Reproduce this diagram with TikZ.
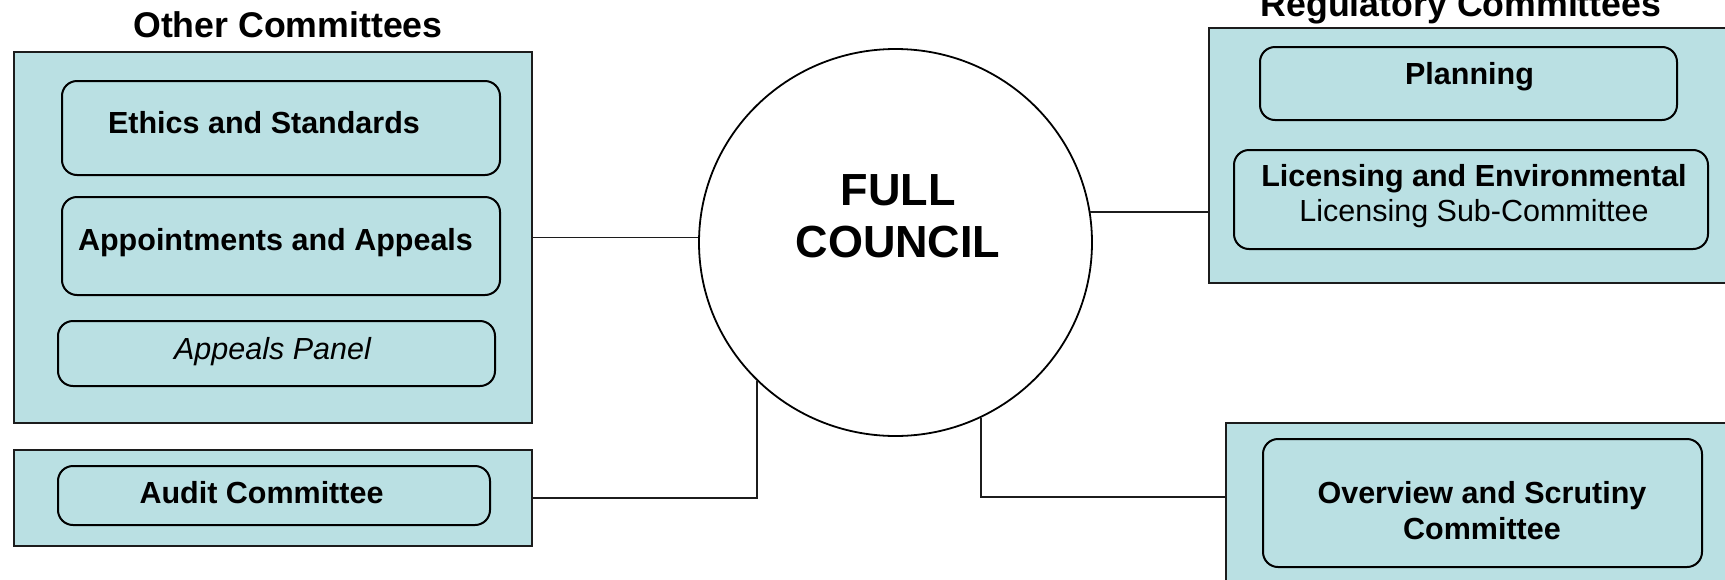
\documentclass[tikz,border=0pt]{standalone}
\usepackage{fontspec}
\setmainfont{Liberation Sans}
\usetikzlibrary{shapes.geometric}
\definecolor{boxfill}{RGB}{186,224,227}
\definecolor{edgegray}{RGB}{28,28,28}
\begin{document}
\begin{tikzpicture}[x=1pt,y=-1pt,
  outerbox/.style={rectangle, draw=edgegray, line width=2pt, fill=boxfill, inner sep=0pt},
  innerbox/.style={rectangle, draw=black, line width=2pt, fill=boxfill, rounded corners=15pt, inner sep=0pt},
  boxtxt/.style={anchor=base, inner sep=0pt, font=\fontsize{30.5}{35}\selectfont\bfseries},
  headtxt/.style={anchor=base, inner sep=0pt, font=\fontsize{35.7}{41}\selectfont\bfseries},
  conn/.style={draw=edgegray, line width=1.8pt}]
\useasboundingbox (0,0) rectangle (1725,579);
\clip (0,0) rectangle (1725,579);
\fill[white] (0,0) rectangle (1725,579);

% headings
\node[headtxt] (hother) at (288,37) {Other Committees};
\node[headtxt] (hreg) at (1461,16) {Regulatory Committees};

% left group
\node[outerbox, minimum width=518pt, minimum height=371pt] (other) at (273,237.5) {};
\node[innerbox, minimum width=438pt, minimum height=94pt] (ethics) at (281,128) {};
\node[innerbox, minimum width=438pt, minimum height=98pt] (appoint) at (281,246) {};
\node[innerbox, minimum width=437pt, minimum height=65pt] (panel) at (276.5,353.5) {};
\node[boxtxt] (tethics) at (264,133) {Ethics and Standards};
\node[boxtxt] (tappoint) at (275.5,250) {Appointments and Appeals};
\node[boxtxt, font=\fontsize{30.5}{35}\selectfont\itshape] (tpanel) at (272.5,359) {Appeals Panel};

\node[outerbox, minimum width=518pt, minimum height=96pt] (auditout) at (273,498) {};
\node[innerbox, minimum width=432pt, minimum height=59pt] (auditin) at (274,495.5) {};
\node[boxtxt] (taudit) at (261.5,503) {Audit Committee};

% council
\node[ellipse, draw=black, line width=1.8pt, fill=white, minimum width=393pt, minimum height=387pt, inner sep=0pt] (council) at (895.5,242.5) {};
\node[anchor=base, inner sep=0pt, font=\fontsize{45}{52}\selectfont\bfseries] (tcouncil) at (898,205)
  {\begin{tabular}[t]{@{}c@{}}FULL\\COUNCIL\end{tabular}};

% regulatory group
\node[outerbox, minimum width=531pt, minimum height=255pt] (reg) at (1474.5,155.5) {};
\node[innerbox, minimum width=417pt, minimum height=73pt] (planning) at (1468.5,83.5) {};
\node[innerbox, minimum width=474pt, minimum height=99pt] (licensing) at (1471,199.5) {};
\node[boxtxt] (tplanning) at (1469.5,84) {Planning};
\node[anchor=base, inner sep=0pt, font=\fontsize{30.5}{35}\selectfont] (tlicensing) at (1474,186)
  {\begin{tabular}[t]{@{}c@{}}\bfseries Licensing and Environmental\\Licensing Sub-Committee\end{tabular}};

% overview group
\node[outerbox, minimum width=514pt, minimum height=180pt] (overout) at (1483,513) {};
\node[innerbox, minimum width=439pt, minimum height=128pt] (overin) at (1482.5,503) {};
\node[anchor=base, inner sep=0pt, font=\fontsize{30.5}{36}\selectfont\bfseries] (tover) at (1482,503)
  {\begin{tabular}[t]{@{}c@{}}Overview and Scrutiny\\Committee\end{tabular}};

% connectors
\coordinate (ovjoin) at (1226,497);
\draw[conn] (other.east) -- (council.west |- other.east);
\draw[conn] (council.9.5) -- (council.9.5 -| reg.west);
\draw[conn] (auditout.east) -| (council.225);
\draw[conn] (council.296.5) |- (ovjoin);
\end{tikzpicture}
\end{document}
